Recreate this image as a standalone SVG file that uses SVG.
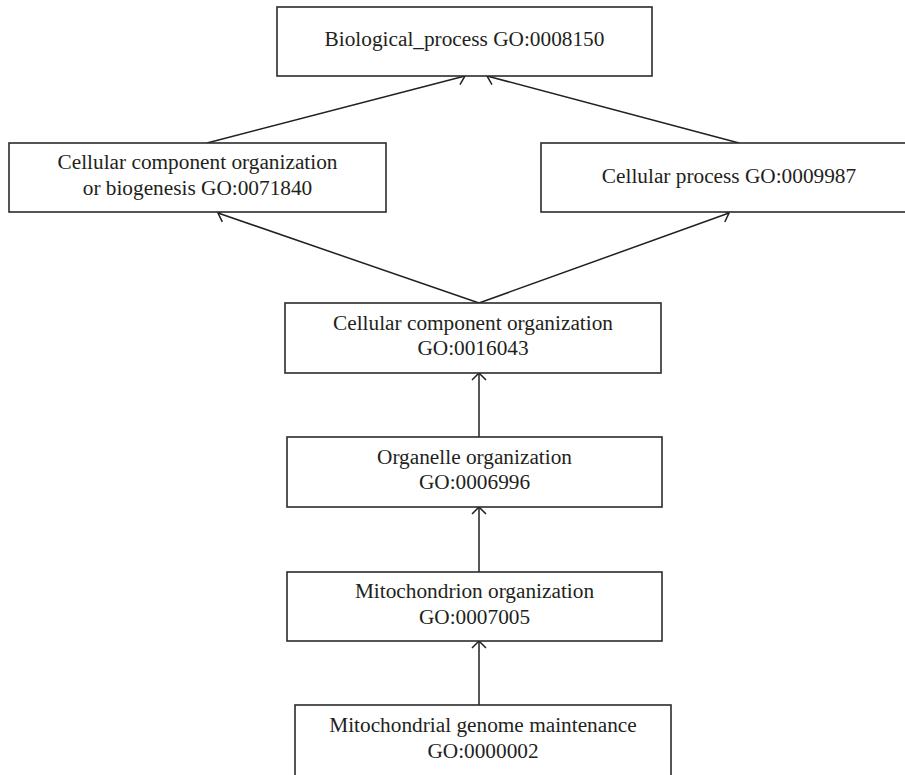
<svg xmlns="http://www.w3.org/2000/svg" width="905" height="775" viewBox="0 0 905 775">
<style>
.box{fill:#fff;stroke:#2b2b2b;stroke-width:1.6}
.lbl{font-family:"Liberation Serif","Times New Roman",serif;font-size:21.3px;fill:#231f20;text-anchor:middle}
.edge{stroke:#231f20;stroke-width:1.5;fill:none;marker-end:url(#arr)}
</style>
<defs>
<marker id="arr" markerUnits="userSpaceOnUse" markerWidth="20" markerHeight="20" viewBox="-10 -10 20 20" refX="0" refY="0" orient="auto">
<path d="M-7,-7 L0,0 L-7,7" fill="none" stroke="#231f20" stroke-width="1.5"/>
</marker>
</defs>
<rect width="905" height="775" fill="#fff"/>
<g id="connectors">
<line class="edge" x1="207" y1="143" x2="465" y2="76"/>
<line class="edge" x1="739" y1="143" x2="487" y2="76"/>
<line class="edge" x1="479" y1="303" x2="218" y2="213"/>
<line class="edge" x1="479" y1="303" x2="729" y2="213"/>
<line class="edge" x1="479" y1="437" x2="479" y2="373"/>
<line class="edge" x1="479" y1="572" x2="479" y2="507"/>
<line class="edge" x1="479" y1="705" x2="479" y2="641"/>
</g>
<g id="n1">
<rect class="box" x="277" y="7" width="375" height="69"/>
<text class="lbl" x="464.5" y="46">Biological_process GO:0008150</text>
</g>
<g id="n2">
<rect class="box" x="9" y="143" width="377" height="69"/>
<text class="lbl" x="197.5" y="169">Cellular component organization</text>
<text class="lbl" x="197.5" y="195">or biogenesis GO:0071840</text>
</g>
<g id="n3">
<rect class="box" x="541" y="143" width="380" height="69"/>
<text class="lbl" x="729" y="183">Cellular process GO:0009987</text>
</g>
<g id="n4">
<rect class="box" x="285" y="303" width="376" height="70"/>
<text class="lbl" x="473" y="330">Cellular component organization</text>
<text class="lbl" x="473" y="355">GO:0016043</text>
</g>
<g id="n5">
<rect class="box" x="287" y="437" width="375" height="70"/>
<text class="lbl" x="474.5" y="464">Organelle organization</text>
<text class="lbl" x="474.5" y="489">GO:0006996</text>
</g>
<g id="n6">
<rect class="box" x="287" y="572" width="375" height="69"/>
<text class="lbl" x="474.5" y="598">Mitochondrion organization</text>
<text class="lbl" x="474.5" y="624">GO:0007005</text>
</g>
<g id="n7">
<rect class="box" x="295" y="705" width="376" height="80"/>
<text class="lbl" x="483" y="732">Mitochondrial genome maintenance</text>
<text class="lbl" x="483" y="758">GO:0000002</text>
</g>
</svg>
